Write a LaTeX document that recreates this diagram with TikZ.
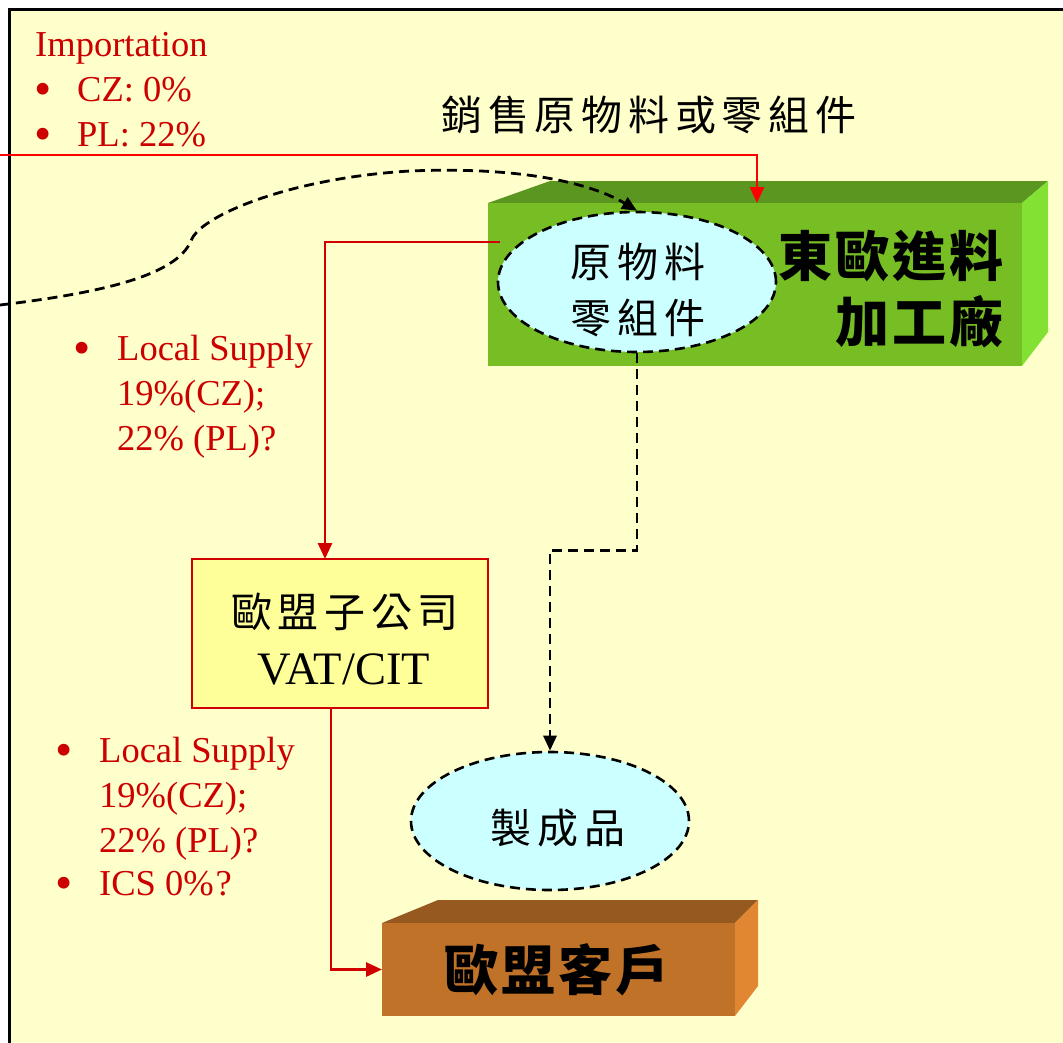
\documentclass[tikz,border=0pt]{standalone}
\usepackage{fontspec}
\setmainfont{Liberation Serif}
\newfontfamily\cjkmid[LetterSpace=14]{Noto Sans CJK TC}
\newfontfamily\cjkbig[LetterSpace=6]{Noto Sans CJK TC}
\usetikzlibrary{shapes.geometric,arrows.meta,calc}

\definecolor{paper}{HTML}{FFFFCC}
\definecolor{notered}{HTML}{CC0000}
\definecolor{wirered}{HTML}{D00000}
\definecolor{imported}{HTML}{FF0000}
\definecolor{greenfront}{HTML}{76BE23}
\definecolor{greentop}{HTML}{5A9620}
\definecolor{greenside}{HTML}{82E132}
\definecolor{brownfront}{HTML}{C07328}
\definecolor{browntop}{HTML}{965A20}
\definecolor{brownside}{HTML}{E18732}
\definecolor{bubble}{HTML}{CCFFFF}
\definecolor{subfill}{HTML}{FFFF99}

\newcommand{\dotmark}{\raisebox{-4.5pt}{\scalebox{1.35}{•}}}

\tikzset{
  note/.style={text=notered, inner sep=0pt, anchor=base west,
    font=\fontsize{36.5}{45}\selectfont},
  midcjk/.style={inner sep=0pt, font=\cjkmid\fontsize{41}{50}\selectfont},
  bigcjk/.style={inner sep=0pt, font=\cjkbig\bfseries\fontsize{54}{60}\selectfont},
  latinbig/.style={inner sep=0pt, anchor=base, font=\fontsize{46.5}{50}\selectfont},
  bubblenode/.style={ellipse, draw=black, line width=2.6pt, dash pattern=on 10pt off 6pt,
    fill=bubble, inner sep=0pt, minimum width=278pt},
  blockface/.style={inner sep=0pt, outer sep=0pt, anchor=north west},
  redwire/.style={draw=wirered, line width=2.8pt, -{Triangle[length=16pt,width=14pt]}},
  importwire/.style={draw=imported, line width=2.8pt, -{Triangle[length=16pt,width=14pt]}},
  dashwire/.style={draw=black, line width=2.8pt, dash pattern=on 10pt off 6pt,
    -{Triangle[length=15pt,width=13pt]}},
}

\begin{document}
\begin{tikzpicture}[x=1pt,y=-1pt]
\useasboundingbox (0,0) rectangle (1063,1042);
\fill[white] (0,0) rectangle (1063,1042);
\draw[line width=3pt, fill=paper] (9,9) rectangle (1090,1070);

% processing plant block
\fill[greentop] (488,203) -- (550,181) -- (1048,181) -- (1022,203) -- cycle;
\fill[greenside] (1022,203) -- (1048,181) -- (1048,332) -- (1022,366) -- cycle;
\node[blockface, fill=greenfront, minimum width=534pt, minimum height=163pt] (plant) at (488,203) {};
\node[bigcjk, anchor=east] (plantA) at (1004,256) {東歐進料};
\node[bigcjk, anchor=east] (plantB) at (1004,322) {加工廠};

% raw material bubble
\node[bubblenode, minimum height=140pt] (raw) at (637,282) {};
\node[midcjk] (rawA) at (638,262) {原物料};
\node[midcjk] (rawB) at (638,318) {零組件};

\node[midcjk] (sell) at (649,115) {銷售原物料或零組件};

% EU subsidiary
\node[blockface, draw=wirered, line width=2.8pt, fill=subfill,
  minimum width=296pt, minimum height=149pt] (sub) at (192,559) {};
\node[midcjk] (subA) at (345,612) {歐盟子公司};
\node[latinbig] (subB) at (344,684) {VAT/CIT};

% finished goods bubble
\node[bubblenode, minimum height=138pt] (prod) at (550,821) {};
\node[midcjk] (prodA) at (558,828) {製成品};

% EU customer block
\fill[browntop] (382,923) -- (438,900) -- (758,900) -- (735,923) -- cycle;
\fill[brownside] (735,923) -- (758,900) -- (758,986) -- (735,1016) -- cycle;
\node[blockface, fill=brownfront, minimum width=353pt, minimum height=93pt] (client) at (382,923) {};
\node[bigcjk] (clientA) at (557,970) {歐盟客戶};

% tax notes
\node[note] (imp0) at (35,56) {Importation};
\node[note] (imp1b) at (34,101) {\dotmark};
\node[note] (imp1) at (77,101) {CZ: 0\%};
\node[note] (imp2b) at (34,146) {\dotmark};
\node[note] (imp2) at (77,146) {PL: 22\%};

\node[note] (loc1b) at (73,360) {\dotmark};
\node[note] (loc1) at (117,360) {Local Supply};
\node[note] (loc2) at (117,405) {19\%(CZ);};
\node[note] (loc3) at (117,450) {22\% (PL)?};

\node[note] (eu1b) at (55,762) {\dotmark};
\node[note] (eu1) at (99,762) {Local Supply};
\node[note] (eu2) at (99,807) {19\%(CZ);};
\node[note] (eu3) at (99,852) {22\% (PL)?};
\node[note] (eu4b) at (55,895) {\dotmark};
\node[note] (eu4) at (99,895) {ICS 0\%\kern2pt?};

% flows
\coordinate (importin) at (0,155);
\draw[importwire] (importin) -| ([xshift=269pt]plant.north west);
\draw[redwire] ([shift={(12pt,-39pt)}]plant.north west) -| ([xshift=-15pt]sub.north);
\draw[redwire] ([xshift=-9pt]sub.south) |- (client.west);

\coordinate (salesin) at (0,305);
\draw[dashwire] (salesin) .. controls (100,293) and (176,276) .. (191,241)
  .. controls (199,216) and (290,178) .. (410,171)
  .. controls (530,166) and (596,186) .. (raw.north);
\draw[dashwire] (raw.south) -- ++(0,197) -| (prod.north);
\end{tikzpicture}
\end{document}
